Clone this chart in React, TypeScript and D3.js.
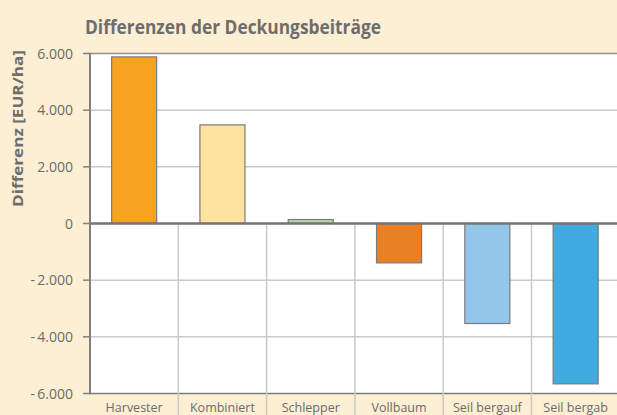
import * as d3 from 'd3';
import React from 'react';

// Chart data
const categories = ['Harvester', 'Kombiniert', 'Schlepper', 'Vollbaum', 'Seil bergauf', 'Seil bergab'];
const values = [5880, 3480, 140, -1390, -3530, -5660];
const barColors = ['#f6a41f', '#ffe29e', '#b6d5ab', '#ea8025', '#94c6eb', '#40aae1'];
const yTicks = [6000, 4000, 2000, 0, -2000, -4000, -6000];

const W = 617;
const H = 415;
const margin = { top: 53.5, right: 0, bottom: 21.5, left: 90 };

const fmt = (v: number) => {
    const s = d3.format(',')(Math.abs(v)).replace(/,/g, '.');
    return v < 0 ? `-\u2009${s}` : s;
};

export default function App() {
    // scales
    const x = d3.scaleBand()
        .domain(categories)
        .range([margin.left, margin.left + 88.3 * 6])
        .paddingInner(0.49)
        .paddingOuter(0.245);

    const y = d3.scaleLinear()
        .domain([-6000, 6000])
        .range([H - margin.bottom, margin.top]);

    const font = '"Open Sans", "Noto Sans", sans-serif';
    const step = x.step();
    const left0 = margin.left;

    return (
        <svg width={W} height={H} style={{ position: 'absolute', left: 0, top: 0 }} fontFamily={font}>
            {/* background */}
            <rect x={0} y={0} width={W} height={H} fill="#fdefd3" />
            {/* plot area */}
            <rect x={margin.left} y={margin.top} width={W - margin.left} height={y(-6000) - margin.top} fill="#ffffff" />

            {/* horizontal gridlines */}
            {yTicks.filter((t) => t !== 0 && Math.abs(t) !== 6000).map((t) => (
                <line key={t} x1={margin.left} x2={W} y1={y(t)} y2={y(t)} stroke="#c9c9ce" strokeWidth={1.5} />
            ))}
            {/* plot border top & bottom */}
            <line x1={margin.left} x2={W} y1={y(6000)} y2={y(6000)} stroke="#8f8f8f" strokeWidth={1.5} />
            <line x1={margin.left} x2={W} y1={y(-6000)} y2={y(-6000)} stroke="#7d7d7d" strokeWidth={1.5} />

            {/* category separators, from zero line down */}
            {categories.slice(1).map((c, i) => (
                <line key={c} x1={left0 + step * (i + 1)} x2={left0 + step * (i + 1)} y1={y(0)} y2={H}
                    stroke="#c9c9ce" strokeWidth={1.5} />
            ))}

            {/* bars */}
            {values.map((v, i) => (
                <rect key={categories[i]}
                    x={x(categories[i])}
                    y={Math.min(y(v), y(0))}
                    width={x.bandwidth()}
                    height={Math.abs(y(v) - y(0))}
                    fill={barColors[i]}
                    stroke="#7b7b7b"
                    strokeWidth={1.2} />
            ))}

            {/* zero line */}
            <line x1={margin.left} x2={W} y1={y(0)} y2={y(0)} stroke="#757575" strokeWidth={2.5} />

            {/* y axis */}
            <line x1={margin.left} x2={margin.left} y1={y(6000) - 0.75} y2={y(-6000) + 0.75} stroke="#808080" strokeWidth={2} />
            {yTicks.map((t) => (
                <g key={t}>
                    <line x1={margin.left - 7} x2={margin.left} y1={y(t)} y2={y(t)} stroke="#808080" strokeWidth={1.5} />
                    <text x={73} y={y(t)} dy="0.36em" textAnchor="end" fontSize={14} fill="#6b6b6b">{fmt(t)}</text>
                </g>
            ))}

            {/* category labels */}
            {categories.map((c) => (
                <text key={c} x={(x(c) ?? 0) + x.bandwidth() / 2} y={412} textAnchor="middle" fontSize={12.5} fill="#6b6b6b">{c}</text>
            ))}

            {/* titles */}
            <text x={85} y={34} fontSize={19.5} fontWeight="bold" fill="#6d6d6d"
                textLength={296} lengthAdjust="spacingAndGlyphs">Differenzen der Deckungsbeiträge</text>
            <text transform={`translate(23,${128.5}) rotate(-90)`} textAnchor="middle" fontSize={15} fontWeight="bold" fill="#6d6d6d"
                textLength={157} lengthAdjust="spacingAndGlyphs">
                Differenz [EUR/ha]
            </text>
        </svg>
    );
}
